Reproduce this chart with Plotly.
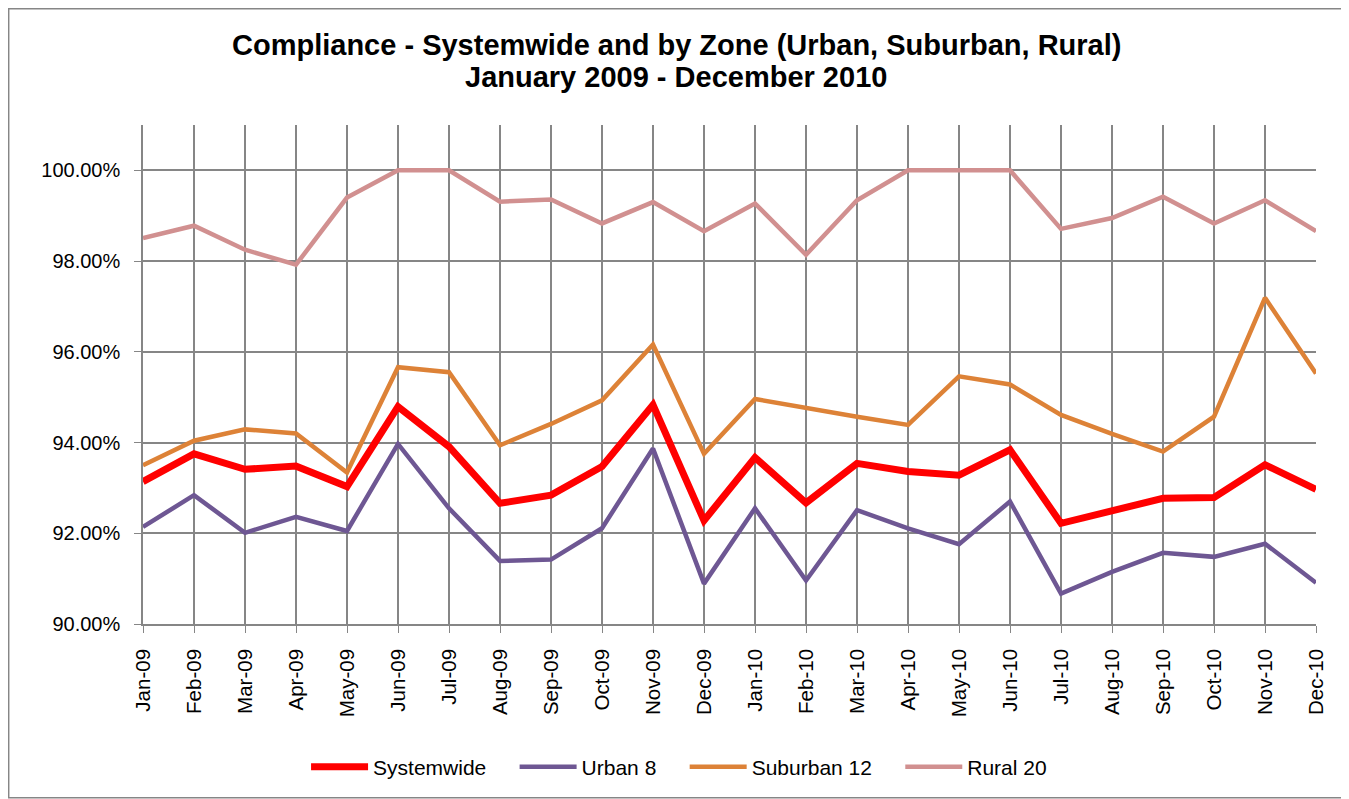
import plotly.graph_objects as go

months = ["Jan-09", "Feb-09", "Mar-09", "Apr-09", "May-09", "Jun-09", "Jul-09", "Aug-09",
          "Sep-09", "Oct-09", "Nov-09", "Dec-09", "Jan-10", "Feb-10", "Mar-10", "Apr-10",
          "May-10", "Jun-10", "Jul-10", "Aug-10", "Sep-10", "Oct-10", "Nov-10", "Dec-10"]

systemwide = [93.14, 93.75, 93.41, 93.48, 93.03, 94.79, 93.91, 92.66, 92.84, 93.47, 94.83, 92.28,
              93.67, 92.67, 93.54, 93.36, 93.28, 93.84, 92.22, 92.51, 92.77, 92.79, 93.51, 92.97]
urban_8 = [92.14, 92.84, 92.01, 92.36, 92.05, 93.97, 92.55, 91.39, 91.42, 92.11, 93.87, 90.89,
           92.55, 90.96, 92.51, 92.11, 91.76, 92.70, 90.67, 91.15, 91.57, 91.48, 91.77, 90.91]
suburban_12 = [93.50, 94.04, 94.29, 94.20, 93.34, 95.66, 95.55, 93.94, 94.41, 94.93, 96.16, 93.75,
               94.96, 94.76, 94.57, 94.39, 95.46, 95.28, 94.61, 94.19, 93.80, 94.57, 97.19, 95.52]
rural_20 = [98.51, 98.78, 98.25, 97.92, 99.40, 100.0, 100.0, 99.31, 99.36, 98.83, 99.30, 98.66,
            99.27, 98.14, 99.34, 100.0, 100.0, 100.0, 98.71, 98.95, 99.42, 98.83, 99.34, 98.66]

y_ticks = [90, 92, 94, 96, 98, 100]

title_lines = ["Compliance - Systemwide and by Zone (Urban, Suburban, Rural)",
               "January 2009 - December 2010"]

series = [
    ("Systemwide", systemwide, "#FF0000", 7),
    ("Urban 8", urban_8, "#6E5793", 4.5),
    ("Suburban 12", suburban_12, "#DD8237", 4.5),
    ("Rural 20", rural_20, "#D19090", 4.5),
]

fig = go.Figure()
for i, (name, vals, color, width) in enumerate(series):
    # pad legend entries with nbsp so the items sit further apart, like excel does
    label = name if i == len(series) - 1 else name + "\u00a0" * 4
    fig.add_trace(go.Scatter(x=months, y=vals, name=label, mode="lines",
                             line=dict(color=color, width=width)))

grid = "#868686"
font_family = "Liberation Sans, Arial"

# title as two separate lines (tighter line spacing than plotly's title)
for text, ypos in zip(title_lines, [1.160, 1.096]):
    fig.add_annotation(text="<b>%s</b>" % text, xref="paper", yref="paper",
                       x=0.4544, y=ypos, xanchor="center", yanchor="middle",
                       showarrow=False, font=dict(size=29, family=font_family, color="black"))

# page body has an 8px margin, so the figure is 8px smaller than the window
fig.update_layout(
    width=1341, height=791,
    paper_bgcolor="white", plot_bgcolor="white",
    margin=dict(l=135, r=33, t=117, b=175),
    font=dict(family=font_family, color="black", size=20),
    showlegend=True,
    legend=dict(orientation="h", x=0.457, xanchor="center", y=-0.2866, yanchor="middle",
                font=dict(size=21), itemwidth=57, traceorder="normal"),
    xaxis=dict(type="category", showgrid=True, gridcolor=grid, gridwidth=1.5,
               showline=True, linecolor=grid, linewidth=1.5,
               ticks="outside", ticklen=7, tickcolor=grid, tickangle=-90,
               ticklabelstandoff=8,
               range=[0, len(months) - 1], tickfont=dict(size=20.5)),
    yaxis=dict(range=[90, 101.0], tickvals=y_ticks,
               ticktext=["%.2f%%" % v for v in y_ticks],
               showgrid=True, gridcolor=grid, gridwidth=1.5,
               showline=True, linecolor=grid, linewidth=1.5,
               ticks="outside", ticklen=7, tickcolor=grid, zeroline=False,
               ticklabelstandoff=10,
               tickfont=dict(size=20)),
    shapes=[dict(type="rect", xref="paper", yref="paper",
                 x0=-0.1145, x1=1.022, y0=-0.348, y1=1.233,
                 line=dict(color="#868686", width=1.5))],
)

fig.write_html("out.html")
